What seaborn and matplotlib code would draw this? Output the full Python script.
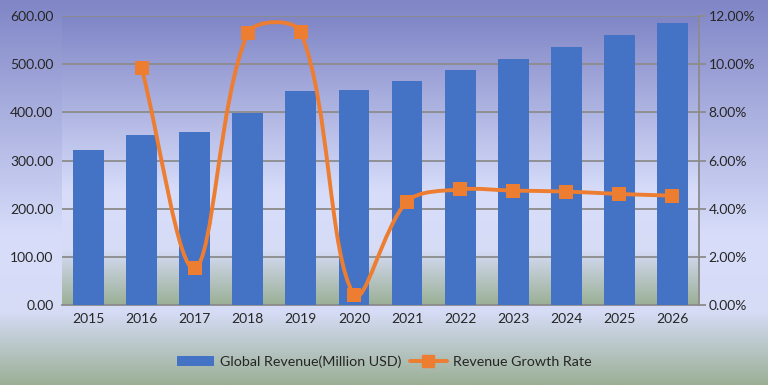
import numpy as np
import pandas as pd
import matplotlib.pyplot as plt
import seaborn as sns
from matplotlib.colors import LinearSegmentedColormap
from matplotlib.path import Path
from matplotlib.patches import PathPatch
from matplotlib.lines import Line2D
from matplotlib.patches import Patch
from matplotlib.ticker import FuncFormatter

years = ["2015", "2016", "2017", "2018", "2019", "2020",
         "2021", "2022", "2023", "2024", "2025", "2026"]
revenue = [322, 353, 359, 399, 444, 447, 465, 488, 511, 536, 560, 585]
growth = [np.nan, 9.83, 1.52, 11.28, 11.32, 0.42, 4.29, 4.80, 4.75, 4.71, 4.61, 4.54]

bar_color = "#4472C4"
line_color = "#ED7D31"
text_color = "#262626"
grid_color = "#8C8C8C"

sns.set_style("white")
plt.rcParams["font.family"] = ["Lato", "DejaVu Sans"]

bg = LinearSegmentedColormap.from_list(
    "bg", [(0.0, "#8086C6"), (0.62, "#D8DEFA"), (0.81, "#D6DCF6"), (1.0, "#9BB096")])
grad = np.linspace(0, 1, 256).reshape(-1, 1)

fig = plt.figure(figsize=(7.68, 3.85), dpi=100)

# chart area background
bgax = fig.add_axes([0, 0, 1, 1], zorder=-10)
bgax.imshow(grad, cmap=bg, aspect="auto", extent=[0, 1, 0, 1])
bgax.axis("off")

ax = fig.add_axes([62 / 768, 1 - 305 / 385, 637 / 768, 289 / 385])
df = pd.DataFrame({"year": years, "revenue": revenue})
sns.barplot(data=df, x="year", y="revenue", color=bar_color, saturation=1,
            width=0.58, ax=ax, zorder=3, edgecolor="none", linewidth=0)
ax.set_xlim(-0.5, len(years) - 0.5)
ax.set_ylim(0, 600)
ax.set_yticks(np.arange(0, 601, 100))
ax.yaxis.set_major_formatter(FuncFormatter(lambda v, p: f"{v:.2f}"))
ax.imshow(grad, cmap=bg, aspect="auto", extent=[-0.5, len(years) - 0.5, 0, 600], zorder=0)
ax.grid(axis="y", color=grid_color, linewidth=1.3, zorder=1)
ax.set_axisbelow(False)
ax.set_xlabel("")
ax.set_ylabel("")
for s in ["top", "left", "right"]:
    ax.spines[s].set_visible(False)
ax.spines["bottom"].set_color(grid_color)
ax.spines["bottom"].set_linewidth(1.3)
ax.tick_params(axis="both", length=0, labelsize=10, colors=text_color, pad=6)
ax.patch.set_alpha(0)

ax2 = ax.twinx()
ax2.set_ylim(0, 12)
ax2.set_yticks(np.arange(0, 12.1, 2))
ax2.yaxis.set_major_formatter(FuncFormatter(lambda v, p: f"{v:.2f}%"))
for s in ["top", "left", "bottom"]:
    ax2.spines[s].set_visible(False)
ax2.spines["right"].set_color(grid_color)
ax2.spines["right"].set_linewidth(1.3)
ax2.tick_params(axis="y", length=5, width=1.3, color=grid_color,
                labelsize=10, labelcolor=text_color, pad=2)

# smoothed growth line: Bezier segments with tangents scaled by
# on-screen segment lengths (spreadsheet-style smoothing)
xs = np.arange(len(years))[1:]
ys = np.array(growth[1:])
sx = 637 / len(years)   # px per category
sy = 289 / 12           # px per percent
pts = np.column_stack([xs * sx, ys * sy])
n = len(pts)
verts = [pts[0]]
codes = [Path.MOVETO]
for i in range(n - 1):
    p0 = pts[i - 1] if i > 0 else pts[i]
    p1, p2 = pts[i], pts[i + 1]
    p3 = pts[i + 2] if i + 2 < n else pts[i + 1]
    d01 = np.linalg.norm(p1 - p0)
    d12 = np.linalg.norm(p2 - p1)
    d23 = np.linalg.norm(p3 - p2)
    c1 = p1 + (p2 - p0) * (d12 / (d01 + d12)) / 3 if i > 0 else p1 + (p2 - p1) / 3
    c2 = p2 - (p3 - p1) * (d12 / (d12 + d23)) / 3 if i + 2 < n else p2 - (p2 - p1) / 3
    verts += [c1, c2, p2]
    codes += [Path.CURVE4] * 3
verts = np.array(verts) / np.array([sx, sy])
ax2.add_patch(PathPatch(Path(verts, codes), facecolor="none", edgecolor=line_color,
                        linewidth=2.8, zorder=4, capstyle="round"))
sns.scatterplot(x=xs, y=ys, marker="s", s=115, color=line_color, edgecolor=line_color,
                linewidth=0, ax=ax2, zorder=5)

handles = [Patch(facecolor=bar_color, edgecolor="none"),
           Line2D([], [], color=line_color, linewidth=2.8, marker="s", markersize=9)]
fig.legend(handles, ["Global Revenue(Million USD)", "Revenue Growth Rate"],
           loc="center", bbox_to_anchor=(0.5, 1 - 362 / 385), ncol=2, frameon=False,
           fontsize=10.3, labelcolor=text_color, handlelength=2.6, columnspacing=0.6,
           handletextpad=0.4)

fig.savefig("out.png", dpi=100)
